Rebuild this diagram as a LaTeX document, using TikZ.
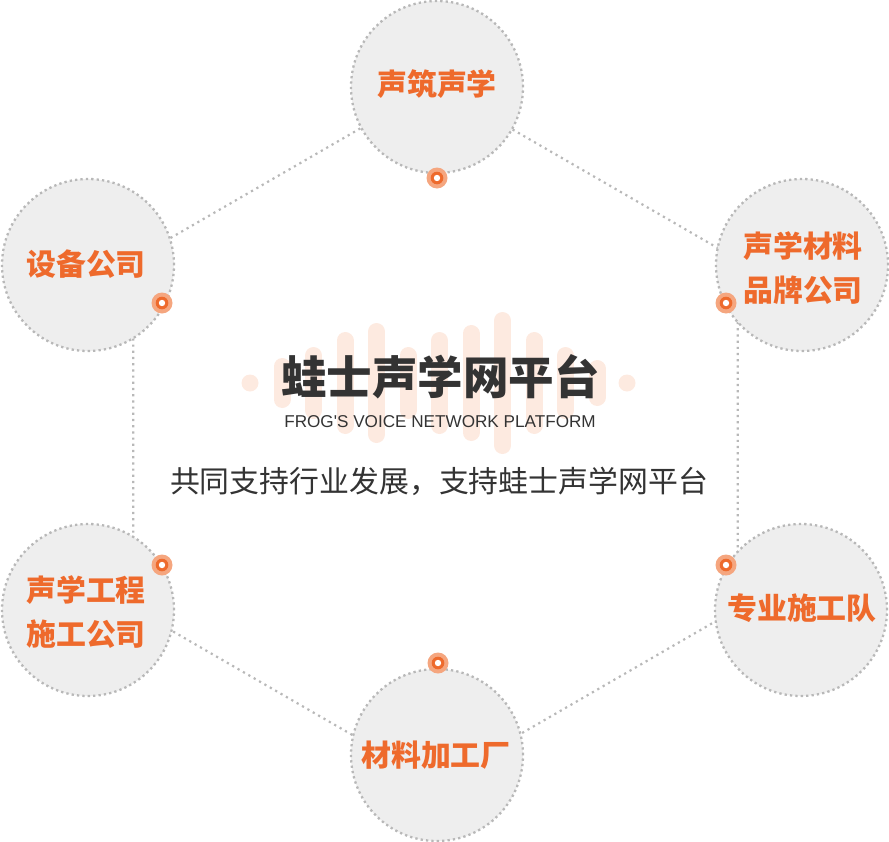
\documentclass[tikz,border=0pt]{standalone}
\usepackage{fontspec}
\setmainfont{Liberation Sans}
\newfontfamily\cjk{Noto Sans CJK SC}
\definecolor{cfill}{HTML}{EEEEEE}
\definecolor{cline}{HTML}{B8B8B8}
\definecolor{orng}{HTML}{EE6A2C}
\definecolor{orngl}{HTML}{F5A67F}
\definecolor{barc}{HTML}{FDEAE0}
\definecolor{dark}{HTML}{333333}
\tikzset{
  bubble/.style={circle, minimum size=172bp, inner sep=0pt, fill=cfill, draw=cline, line width=2.3bp, dash pattern=on 2.3bp off 3.1bp},
  hexline/.style={draw=cline, line width=2.2bp, dash pattern=on 2.2bp off 4bp},
  lbl/.style={text=orng, font=\cjk\bfseries\fontsize{30}{45}\selectfont, align=center, inner sep=0pt},
  wavebar/.style={barc, line width=17bp, line cap=round},
}
\newcommand{\mydot}[2]{%
  \fill[orngl] (#1,#2) circle (10.5bp);
  \fill[orng] (#1,#2) circle (6.3bp);
  \fill[white] (#1,#2) circle (3.2bp);}
\begin{document}
\begin{tikzpicture}[x=1bp,y=-1bp]
\useasboundingbox (0,0) rectangle (889,842);
% hexagon
\coordinate (h1) at (435.5,85);
\coordinate (h2) at (133.3,259.5);
\coordinate (h3) at (133.3,608.5);
\coordinate (h4) at (435.5,783);
\coordinate (h5) at (737.7,608.5);
\coordinate (h6) at (737.7,259.5);
\draw[hexline] (h1) -- (h2) -- (h3) -- (h4) -- (h5) -- (h6) -- cycle;
% sound wave
\fill[barc] (250,383) circle (8.5bp);
\fill[barc] (627,383) circle (8.5bp);
\foreach \i/\h in {0/25,1/36,2/51,3/60,4/36,5/51,6/58,7/71,8/51,9/36,10/23}{
  \pgfmathsetmacro{\xx}{282+31.5*\i}
  \pgfmathsetmacro{\hh}{\h-8.5}
  \draw[wavebar] (\xx,383-\hh) -- (\xx,383+\hh);
}
% circles
\node[bubble] (c1) at (437,87) {};
\node[bubble] (c2) at (88,265) {};
\node[bubble] (c3) at (802,265) {};
\node[bubble] (c4) at (88,610) {};
\node[bubble] (c5) at (801,610) {};
\node[bubble] (c6) at (437,755) {};
\node[lbl] (t1) at (437,84) {声筑声学};
\node[lbl] (t2) at (86,264) {设备公司};
\node[lbl] (t3) at (803,268) {声学材料\\品牌公司};
\node[lbl] (t4) at (86,612) {声学工程\\施工公司};
\node[lbl] (t5) at (802,608) {专业施工队};
\node[lbl] (t6) at (436,755) {材料加工厂};
% markers
\mydot{437}{178}
\mydot{162}{303}
\mydot{726}{303}
\mydot{162}{565}
\mydot{726}{565}
\mydot{438}{663}
% center texts
\node[text=dark, font=\cjk\bfseries\fontsize{45.7}{50}\selectfont, inner sep=0pt] (title) at (440.5,377) {蛙士声学网平台};
\node[text=dark, font=\fontsize{17.2}{20}\selectfont, inner sep=0pt] (sub) at (440,422) {FROG\textquotesingle S VOICE NETWORK PLATFORM};
\node[text=dark, font=\cjk\fontsize{30}{34}\selectfont, inner sep=0pt] (slogan) at (439,481) {共同支持行业发展，支持蛙士声学网平台};
\end{tikzpicture}
\end{document}
